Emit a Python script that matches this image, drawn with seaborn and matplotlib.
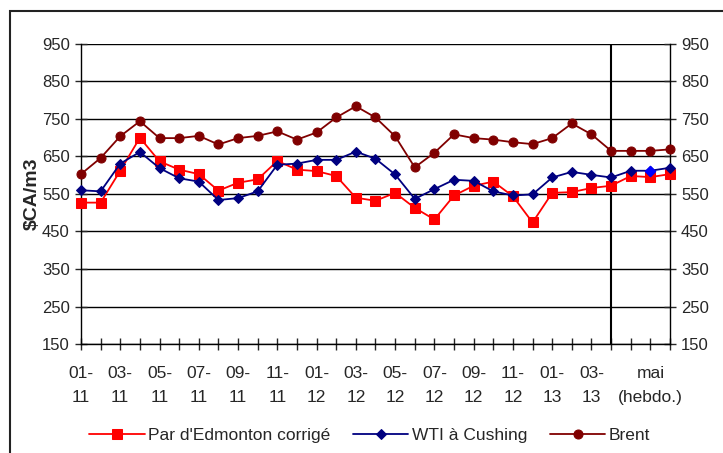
import numpy as np
import pandas as pd
import matplotlib
matplotlib.use("Agg")
import matplotlib.pyplot as plt
import seaborn as sns

# Monthly 01-11 .. 04-13, then three weekly points for May 2013
periods = [f"{m:02d}-{y}" for y in (11, 12) for m in range(1, 13)] + \
          [f"{m:02d}-13" for m in range(1, 5)] + ["mai s1", "mai s2", "mai s3"]

edmonton = [527, 527, 612, 700, 637, 615, 603, 559, 580, 589, 638, 615, 611, 598, 540, 532,
            553, 513, 482, 546, 572, 583, 544, 474, 553, 555, 566, 572, 598, 595, 603]
wti = [560, 557, 631, 662, 619, 592, 583, 534, 539, 557, 628, 631, 641, 641, 663, 644,
       602, 537, 563, 588, 585, 557, 546, 549, 594, 609, 601, 594, 612, 612, 620]
brent = [603, 646, 704, 744, 699, 699, 705, 682, 699, 705, 717, 695, 714, 754, 784, 754,
         704, 621, 660, 709, 699, 695, 688, 683, 699, 738, 709, 665, 665, 665, 669]

series_names = ["Par d'Edmonton corrigé", "WTI à Cushing", "Brent"]
last_monthly = "04-13"
highlight = "mai s2"

# every second month gets a label, plus one label for the weekly block
tick_labels = []
for i, p in enumerate(periods):
    if i < 27 and i % 2 == 0:
        tick_labels.append(p[:3] + "\n" + p[3:])
    elif p == highlight:
        tick_labels.append("mai\n(hebdo.)")
    else:
        tick_labels.append("")

df = pd.DataFrame({"pos": np.arange(len(periods)), "periode": periods,
                   series_names[0]: edmonton, series_names[1]: wti, series_names[2]: brent})

sns.set_style("white")
plt.rcParams["font.family"] = ["Liberation Sans", "DejaVu Sans"]

fig = plt.figure(figsize=(7.23, 4.53), dpi=100)
ax = fig.add_axes([0.112, 0.2406, 0.8147, 0.6623])

# outer chart border (cut by the image edge)
fig.add_artist(plt.Rectangle((10 / 723, -0.05), 1.0, 1 - 11 / 453 + 0.05,
                             transform=fig.transFigure, fill=False,
                             edgecolor="#222222", linewidth=1.5))

styles = [("#FF0000", "s", 6.5), ("#000080", "D", 5.5), ("#800000", "o", 6.5)]
for name, (col, mk, ms) in zip(series_names, styles):
    sns.lineplot(data=df, x="pos", y=name, ax=ax, color=col, marker=mk, markersize=ms,
                 markeredgecolor=col, linewidth=1.3, label=name, clip_on=False, zorder=3)

hl = df[df["periode"] == highlight]
sns.scatterplot(data=hl, x="pos", y=series_names[1], ax=ax, color="#0000FF", marker="D",
                s=32, edgecolor="#0000FF", zorder=4, legend=False, clip_on=False)

# separator between monthly and weekly data
ax.axvline(df.loc[df["periode"] == last_monthly, "pos"].iloc[0], color="black", linewidth=1.5, zorder=2)

ax.set_xlim(0, len(periods) - 1)
ax.set_ylim(150, 950)
ax.set_yticks(np.arange(150, 951, 100))
ax.set_xticks(df["pos"])
ax.set_xticklabels(tick_labels, fontsize=12.5, linespacing=1.75)
ax.yaxis.grid(True, color="black", linewidth=1)
ax.xaxis.grid(False)
ax.tick_params(axis="y", labelsize=12, left=True, right=True, labelright=True,
               direction="inout", length=8, width=1, pad=4)
ax.tick_params(axis="x", bottom=True, direction="inout", length=8, width=1, pad=12)
for side in ["left", "right", "bottom"]:
    ax.spines[side].set_color("black")
    ax.spines[side].set_linewidth(1)
ax.spines["top"].set_visible(False)
ax.set_xlabel("")
ax.set_ylabel("$CA/m3", fontsize=14, fontweight="bold", labelpad=1)

ax.legend(loc="center", bbox_to_anchor=(0.49, -0.305), ncol=3, frameon=False, fontsize=12.5,
          handlelength=3.2, handletextpad=0.2, columnspacing=1.3)

fig.savefig("out.png", dpi=100)
